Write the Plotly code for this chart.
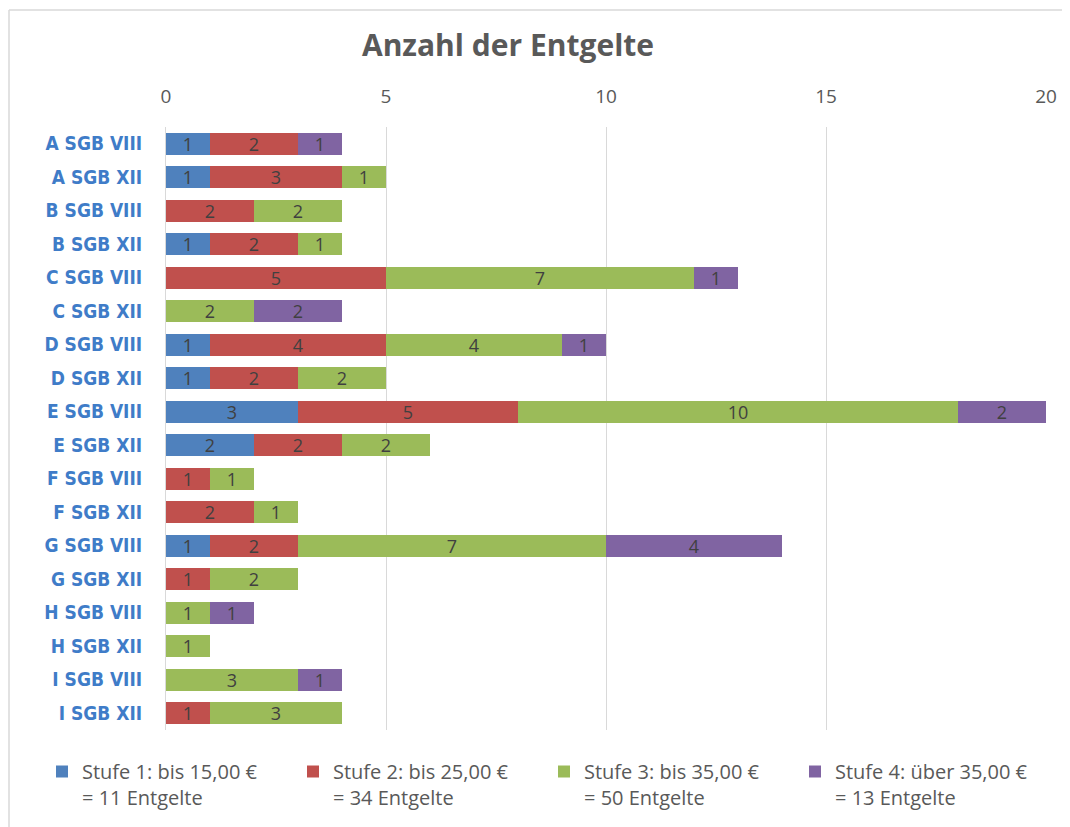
import plotly.graph_objects as go

categories = ["A SGB VIII", "A SGB XII", "B SGB VIII", "B SGB XII", "C SGB VIII", "C SGB XII",
              "D SGB VIII", "D SGB XII", "E SGB VIII", "E SGB XII", "F SGB VIII", "F SGB XII",
              "G SGB VIII", "G SGB XII", "H SGB VIII", "H SGB XII", "I SGB VIII", "I SGB XII"]
stufe1 = [1, 1, 0, 1, 0, 0, 1, 1, 3, 2, 0, 0, 1, 0, 0, 0, 0, 0]
stufe2 = [2, 3, 2, 2, 5, 0, 4, 2, 5, 2, 1, 2, 2, 1, 0, 0, 0, 1]
stufe3 = [0, 1, 2, 1, 7, 2, 4, 2, 10, 2, 1, 1, 7, 2, 1, 1, 3, 3]
stufe4 = [1, 0, 0, 0, 1, 2, 1, 0, 2, 0, 0, 0, 4, 0, 1, 0, 1, 0]
series_names = ["Stufe 1: bis 15,00 €<br>= 11 Entgelte",
                "Stufe 2: bis 25,00 €<br>= 34 Entgelte",
                "Stufe 3: bis 35,00 €<br>= 50 Entgelte",
                "Stufe 4: über 35,00 €<br>= 13 Entgelte"]
colors = ["#4F81BD", "#C0504D", "#9BBB59", "#8064A2"]
x_ticks = [0, 5, 10, 15, 20]

fig = go.Figure()
for name, vals, col in zip(series_names, [stufe1, stufe2, stufe3, stufe4], colors):
    xs = [v if v > 0 else None for v in vals]
    fig.add_trace(go.Bar(
        y=categories, x=xs, name=name, orientation="h",
        marker=dict(color=col, line=dict(width=0)),
        text=[str(v) if v > 0 else "" for v in vals],
        textposition="inside", insidetextanchor="middle", textangle=0,
        textfont=dict(family="Open Sans, sans-serif", size=18, color="#404040"),
        constraintext="none", cliponaxis=False,
        hoverinfo="x+y+name",
    ))

# page body has an 8px margin: work in figure coordinates (screen - 8)
OX, OY = 8, 8
W, H = 1070 - OX, 827 - OY
L, T = 166 - OX, 127 - OY
R, B = 1070 - 1046, 827 - 730
pw, ph = W - L - R, H - T - B


def px(xs):
    return (xs - OX - L) / pw


def py(ys):
    return 1 - (ys - OY - T) / ph


fig.update_layout(
    width=W, height=H,
    barmode="stack", bargap=0.34,
    paper_bgcolor="white", plot_bgcolor="white",
    margin=dict(l=L, r=R, t=T, b=B, autoexpand=False),
    title=dict(text="<b>Anzahl der Entgelte</b>", x=px(508), xref="paper", xanchor="center",
               y=1 - (45 - OY) / H, yanchor="middle",
               font=dict(family="Open Sans, sans-serif", size=30, color="#595959")),
    xaxis=dict(side="top", range=[0, 20], tickvals=x_ticks, showgrid=True, gridcolor="#D9D9D9",
               gridwidth=1, zeroline=False, showline=False, ticks="", ticklabelstandoff=19,
               tickfont=dict(family="Open Sans, sans-serif", size=19, color="#595959")),
    yaxis=dict(categoryorder="array", categoryarray=categories, autorange="reversed",
               showline=True, linecolor="#D9D9D9", linewidth=1, ticks="", ticklabelstandoff=19,
               tickfont=dict(family="Liberation Sans Narrow, DejaVu Sans Condensed, sans-serif",
                             size=19, color="#3F7CC8", weight="bold")),
    legend=dict(orientation="h", x=px(42), xanchor="left", y=py(752),
                yanchor="top", entrywidth=206, entrywidthmode="pixels", traceorder="normal",
                font=dict(family="Open Sans, sans-serif", size=20, color="#595959"),
                itemwidth=30, valign="top"),
    showlegend=True,
    font=dict(family="Open Sans, sans-serif"),
)

# chart frame (left and top edges visible)
fig.add_shape(type="line", xref="paper", yref="paper",
              x0=px(9), x1=px(9), y0=py(840), y1=py(10),
              line=dict(color="#D9D9D9", width=1.5))
fig.add_shape(type="line", xref="paper", yref="paper",
              x0=px(9), x1=px(1080), y0=py(10), y1=py(10),
              line=dict(color="#D9D9D9", width=1.5))

fig.write_html("out.html")
